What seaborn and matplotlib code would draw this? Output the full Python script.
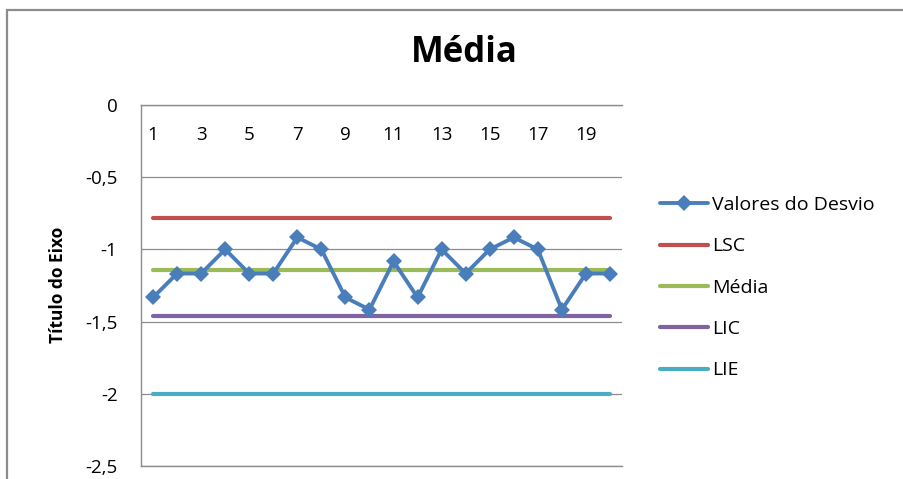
import matplotlib
matplotlib.use("Agg")
import matplotlib.pyplot as plt
from matplotlib.lines import Line2D
from matplotlib.ticker import FuncFormatter, FixedLocator
import pandas as pd
import seaborn as sns

# Sample index and measured deviation values
amostras = list(range(1, 21))
valores_desvio = [-1.333, -1.167, -1.167, -1.0, -1.167, -1.167, -0.917, -1.0,
                  -1.333, -1.417, -1.083, -1.333, -1.0, -1.167, -1.0, -0.917,
                  -1.0, -1.417, -1.167, -1.167]

# Control limits
lsc = -0.78
media = -1.146
lic = -1.46
lie = -2.0

series_nomes = ["Valores do Desvio", "LSC", "Média", "LIC", "LIE"]
cores = ["#4A7EBB", "#C0504D", "#9BBB59", "#8064A2", "#4BACC6"]
x_ticks = [1, 3, 5, 7, 9, 11, 13, 15, 17, 19]
y_ticks = [0, -0.5, -1, -1.5, -2, -2.5]

sns.set_theme(style="white")
plt.rcParams["font.family"] = ["Open Sans", "DejaVu Sans"]
plt.rcParams["text.color"] = "black"

W, H = 904, 479
fig = plt.figure(figsize=(W / 100, H / 100), dpi=100)
fig.patch.set_facecolor("white")

# Plot area in pixel terms
left, right, top, bottom = 141, 622, 105, 466
ax = fig.add_axes([left / W, 1 - bottom / H, (right - left) / W, (bottom - top) / H])

n = len(amostras)
df = pd.DataFrame({
    "Amostra": amostras * 5,
    "Valor": valores_desvio + [lsc] * n + [media] * n + [lic] * n + [lie] * n,
    "Série": sum([[s] * n for s in series_nomes], []),
})

# Limit lines first, data series on top
for nome, cor in zip(series_nomes[1:], cores[1:]):
    sns.lineplot(data=df[df["Série"] == nome], x="Amostra", y="Valor", ax=ax,
                 color=cor, lw=3.0, solid_capstyle="round", label=nome, zorder=2)
sns.lineplot(data=df[df["Série"] == series_nomes[0]], x="Amostra", y="Valor", ax=ax,
             color=cores[0], lw=2.8, marker="D", markersize=8.5,
             markeredgewidth=0, label=series_nomes[0], zorder=3)

ax.set_xlim(0.5, 20.5)
ax.set_ylim(-2.5, 0)
ax.set_xlabel("")
ax.set_ylabel("")

grid_color = "#8C8C8C"
ax.yaxis.set_major_locator(FixedLocator(y_ticks))
ax.yaxis.set_major_formatter(FuncFormatter(lambda v, p: f"{v:g}".replace(".", ",")))
ax.grid(axis="y", color=grid_color, lw=0.9)
ax.grid(axis="x", visible=False)
ax.set_axisbelow(True)

ax.xaxis.set_major_locator(FixedLocator(x_ticks))
ax.xaxis.set_major_formatter(FuncFormatter(lambda v, p: f"{int(v)}"))
ax.tick_params(axis="x", top=True, labeltop=True, bottom=False, labelbottom=False,
               length=0, pad=-28, labelsize=13.5, colors="black")
ax.tick_params(axis="y", left=False, length=0, pad=17, labelsize=13.5, colors="black")

for s in ["left", "top", "bottom"]:
    ax.spines[s].set_visible(True)
    ax.spines[s].set_color(grid_color)
    ax.spines[s].set_linewidth(1.0)
ax.spines["right"].set_visible(False)

# Legend in data series order
handles, labels = ax.get_legend_handles_labels()
order = [labels.index(s) for s in series_nomes]
ax.legend([handles[i] for i in order], [labels[i] for i in order],
          loc="upper left", bbox_to_anchor=(660 / W, 1 - 196 / H),
          bbox_transform=fig.transFigure, frameon=False, fontsize=14,
          handlelength=2.45, handletextpad=0.25, labelspacing=1.2,
          borderpad=0, borderaxespad=0)

# Titles
fig.text(464 / W, 1 - 53 / H, "Média", ha="center", va="center",
         fontsize=25, fontweight="bold", color="black")
fig.text(58 / W, 1 - 285 / H, "Título do Eixo", ha="center", va="center",
         rotation=90, fontsize=12.5, fontweight="bold", color="black")

# Chart area border
border = "#8C8C8C"
fig.add_artist(Line2D([7 / W, 7 / W], [0, 1 - 10 / H], transform=fig.transFigure,
                      color=border, lw=1.6))
fig.add_artist(Line2D([7 / W, 1], [1 - 10 / H, 1 - 10 / H], transform=fig.transFigure,
                      color=border, lw=1.6))

fig.savefig("out.png", dpi=100)
